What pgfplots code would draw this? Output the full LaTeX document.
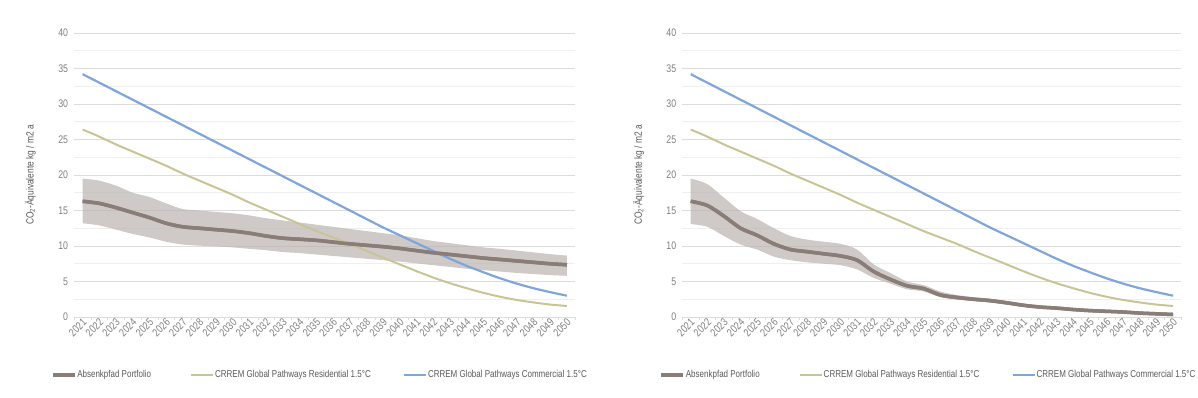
\documentclass[border=0pt]{standalone}
\usepackage{fontspec}
\setmainfont{Liberation Sans}[FakeStretch=0.8]
\usepackage{pgfplots}
\usepackage{pgfplotstable}
\pgfplotsset{compat=1.18}
\usepgfplotslibrary{fillbetween}
\definecolor{portc}{HTML}{8A7D78}
\definecolor{bandc}{HTML}{BAB4B0}
\definecolor{resc}{HTML}{C8C496}
\definecolor{comc}{HTML}{7EA6DA}
\definecolor{gridc}{HTML}{DCDCDC}
\definecolor{gridm}{HTML}{EFEFEF}
\definecolor{tickc}{HTML}{7F7F7F}
\definecolor{labc}{HTML}{595959}

\pgfplotstableread{
i res com
0 26.4 34.2
1 25.4 33.0
2 24.3 31.8
3 23.3 30.6
4 22.3 29.4
5 21.3 28.2
6 20.2 27.0
7 19.2 25.8
8 18.2 24.6
9 17.2 23.4
10 16.1 22.2
11 15.1 21.0
12 14.1 19.8
13 13.1 18.6
14 12.1 17.4
15 11.2 16.2
16 10.3 15.0
17 9.3 13.8
18 8.35 12.6
19 7.4 11.5
20 6.45 10.4
21 5.55 9.3
22 4.75 8.2
23 4.05 7.2
24 3.4 6.3
25 2.85 5.45
26 2.4 4.7
27 2.05 4.05
28 1.75 3.5
29 1.55 3.0
}\Pathways

\pgfplotstableread{
i port up lo
0 16.3 19.5 13.2
1 16.0 19.2 12.9
2 15.4 18.5 12.3
3 14.7 17.5 11.7
4 14.0 16.9 11.2
5 13.2 16.0 10.6
6 12.7 15.2 10.2
7 12.5 15.0 10.05
8 12.3 14.8 9.95
9 12.1 14.6 9.8
10 11.8 14.3 9.6
11 11.4 13.9 9.4
12 11.1 13.6 9.15
13 10.95 13.3 9.0
14 10.8 13.0 8.8
15 10.55 12.7 8.6
16 10.3 12.4 8.4
17 10.1 12.1 8.2
18 9.9 11.8 8.0
19 9.65 11.5 7.8
20 9.35 11.1 7.55
21 9.05 10.7 7.3
22 8.8 10.4 7.05
23 8.55 10.1 6.8
24 8.3 9.8 6.6
25 8.1 9.6 6.4
26 7.9 9.35 6.2
27 7.7 9.1 6.05
28 7.5 8.85 5.9
29 7.35 8.65 5.8
}\PortA

\pgfplotstableread{
i port up lo
0 16.3 19.5 13.1
1 15.7 18.7 12.7
2 14.2 16.8 11.4
3 12.5 14.9 10.2
4 11.5 13.8 9.5
5 10.3 12.5 8.5
6 9.5 11.4 8.0
7 9.2 10.9 7.7
8 8.9 10.6 7.5
9 8.6 10.3 7.3
10 8.0 9.5 6.7
11 6.4 7.4 5.5
12 5.3 6.2 4.7
13 4.4 5.0 3.9
14 4.0 4.5 3.6
15 3.1 3.6 2.8
16 2.75 3.1 2.45
17 2.5 2.8 2.25
18 2.3 2.6 2.05
19 2.0 2.25 1.75
20 1.65 1.85 1.45
21 1.4 1.6 1.25
22 1.25 1.4 1.1
23 1.05 1.2 0.9
24 0.9 1.05 0.78
25 0.8 0.92 0.68
26 0.7 0.8 0.6
27 0.55 0.65 0.45
28 0.45 0.55 0.35
29 0.35 0.45 0.28
}\PortB

\pgfplotsset{
  mychart/.style={
    scale only axis,
    height=284pt,
    xmin=-0.5, xmax=29.5, ymin=0, ymax=40,
    axis x line=bottom, axis y line=left,
    y axis line style={draw=none},
    x axis line style={draw=gridc, line width=0.8pt, -},
    xtick={0,...,29},
    xticklabels={2021,2022,2023,2024,2025,2026,2027,2028,2029,2030,2031,2032,2033,2034,2035,2036,2037,2038,2039,2040,2041,2042,2043,2044,2045,2046,2047,2048,2049,2050},
    minor xtick={-0.5,0.5,...,29.5},
    ytick={0,5,...,40},
    minor ytick={2.5,7.5,...,37.5},
    ymajorgrids, yminorgrids,
    major grid style={draw=gridc, line width=0.8pt},
    minor grid style={draw=gridm, line width=0.8pt},
    major tick length=0pt,
    minor tick length=3pt,
    tick align=outside,
    minor x tick style={draw=gridc, line width=0.6pt},
    minor y tick style={draw=none},
    /pgf/number format/assume math mode=true,
    ticklabel style={font=\fontsize{11}{12}\selectfont, text=tickc},
    xticklabel style={rotate=45, anchor=east, inner sep=1pt, yshift=-4pt},
    yticklabel style={inner sep=1pt, xshift=-5pt},
    every axis y label/.style={at={(axis description cs:-0.088,0.5)}, rotate=90, anchor=center, font=\fontsize{10.5}{12}\selectfont, text=labc},
    ylabel={CO\textsubscript{2}-Äquivalente kg / m2 a},
    legend columns=3,
    legend cell align=left,
    legend image code/.code={\draw[#1] (0pt,0pt) -- (22pt,0pt);},
    legend style={draw=none, fill=none, font=\fontsize{10}{12}\selectfont, text=labc,
      anchor=center, inner sep=0pt,
      /tikz/column 2/.style={column sep=38pt},
      /tikz/column 4/.style={column sep=31pt},
      nodes={inner sep=1pt}},
  }
}

\begin{document}
\begin{tikzpicture}

% Left chart
\begin{axis}[mychart, width=501pt, at={(74.3pt,81pt)}, anchor=south west,
  legend style={at={(axis description cs:0.489,-0.204)}}]
\addplot[portc, line width=3.5pt, smooth] table[x=i,y=port]{\PortA};
\addlegendentry{Absenkpfad Portfolio}
\addplot[resc, line width=2pt, smooth] table[x=i,y=res]{\Pathways};
\addlegendentry{CRREM Global Pathways Residential 1.5°C}
\addplot[comc, line width=2.2pt, smooth] table[x=i,y=com]{\Pathways};
\addlegendentry{CRREM Global Pathways Commercial 1.5°C}
\addplot[name path=upA, draw=none, smooth, forget plot] table[x=i,y=up]{\PortA};
\addplot[name path=loA, draw=none, smooth, forget plot] table[x=i,y=lo]{\PortA};
\addplot[bandc, fill opacity=0.7, forget plot] fill between[of=upA and loA];
\addplot[portc, line width=3.5pt, smooth, forget plot] table[x=i,y=port]{\PortA};
\end{axis}

% Right chart
\begin{axis}[mychart, width=499pt, at={(682.4pt,81pt)}, anchor=south west,
  legend style={at={(axis description cs:0.492,-0.204)}}]
\addplot[portc, line width=3.5pt, smooth] table[x=i,y=port]{\PortB};
\addlegendentry{Absenkpfad Portfolio}
\addplot[resc, line width=2pt, smooth] table[x=i,y=res]{\Pathways};
\addlegendentry{CRREM Global Pathways Residential 1.5°C}
\addplot[comc, line width=2.2pt, smooth] table[x=i,y=com]{\Pathways};
\addlegendentry{CRREM Global Pathways Commercial 1.5°C}
\addplot[name path=upB, draw=none, smooth, forget plot] table[x=i,y=up]{\PortB};
\addplot[name path=loB, draw=none, smooth, forget plot] table[x=i,y=lo]{\PortB};
\addplot[bandc, fill opacity=0.7, forget plot] fill between[of=upB and loB];
\addplot[portc, line width=3.5pt, smooth, forget plot] table[x=i,y=port]{\PortB};
\end{axis}

\pgfresetboundingbox
\path[use as bounding box] (0,0) rectangle (1198pt,398pt);
\end{tikzpicture}
\end{document}
